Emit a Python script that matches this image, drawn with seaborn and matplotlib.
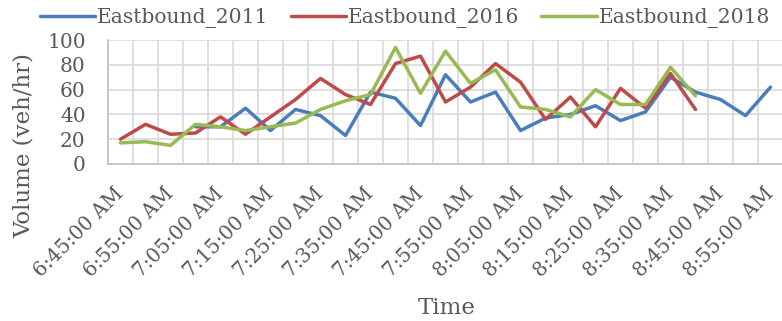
import numpy as np
import pandas as pd
import matplotlib
matplotlib.use("Agg")
import matplotlib.pyplot as plt
import matplotlib.transforms as mtransforms
import seaborn as sns

# Five-minute count intervals, 6:45 AM through 8:55 AM
times = ["6:45:00 AM", "6:50:00 AM", "6:55:00 AM", "7:00:00 AM", "7:05:00 AM",
         "7:10:00 AM", "7:15:00 AM", "7:20:00 AM", "7:25:00 AM", "7:30:00 AM",
         "7:35:00 AM", "7:40:00 AM", "7:45:00 AM", "7:50:00 AM", "7:55:00 AM",
         "8:00:00 AM", "8:05:00 AM", "8:10:00 AM", "8:15:00 AM", "8:20:00 AM",
         "8:25:00 AM", "8:30:00 AM", "8:35:00 AM", "8:40:00 AM", "8:45:00 AM",
         "8:50:00 AM", "8:55:00 AM"]

nan = np.nan
eastbound_2011 = [nan, nan, nan, 30, 30, 45, 27, 44, 39, 23, 58, 53, 31, 72, 50,
                  58, 27, 37, 40, 47, 35, 42, 70, 58, 52, 39, 62]
eastbound_2016 = [20, 32, 24, 25, 38, 24, 38, 52, 69, 56, 48, 81, 87, 50, 62,
                  81, 66, 36, 54, 30, 61, 45, 73, 44, nan, nan, nan]
eastbound_2018 = [17, 18, 15, 32, 30, 27, 30, 33, 44, 51, 56, 94, 57, 91, 65,
                  76, 46, 44, 38, 60, 48, 48, 78, 55, nan, nan, nan]

series = {"Eastbound_2011": eastbound_2011,
          "Eastbound_2016": eastbound_2016,
          "Eastbound_2018": eastbound_2018}
palette = {"Eastbound_2011": "#4A7EBB",
           "Eastbound_2016": "#BE4B48",
           "Eastbound_2018": "#98B954"}

frames = []
for name, vals in series.items():
    frames.append(pd.DataFrame({"pos": np.arange(len(times)),
                                "volume": vals, "series": name}))
df = pd.concat(frames).dropna()

sns.set_style("white")
plt.rcParams["font.family"] = ["DejaVu Serif", "Liberation Serif"]
text_color = "#595959"
W, H = 782, 321

fig = plt.figure(figsize=(W / 100, H / 100), dpi=100)
ax = fig.add_axes([108 / W, 1 - 164 / H, 675 / W, 124 / H])

sns.lineplot(data=df, x="pos", y="volume", hue="series", palette=palette,
             linewidth=2.5, ax=ax, legend=False, sort=False)

ax.set_xlim(-0.5, len(times) - 0.5)
ax.set_ylim(0, 100)
ax.set_yticks(np.arange(0, 101, 20))

# gridlines on category boundaries and at each value tick
ax.set_xticks(np.arange(-0.5, len(times), 1.0), minor=True)
ax.grid(which="minor", axis="x", color="#D9D9D9", linewidth=1.2)
ax.grid(which="major", axis="y", color="#D9D9D9", linewidth=1.2)
ax.set_axisbelow(True)

# label every other interval, slanted
label_pos = np.arange(0, len(times), 2)
ax.set_xticks(label_pos)
ax.set_xticklabels([times[i] for i in label_pos], rotation=45, ha="right",
                   va="center", rotation_mode="anchor", fontsize=14.3,
                   color=text_color)
shift = mtransforms.ScaledTranslation(9 / 100, 0, fig.dpi_scale_trans)
for lbl in ax.get_xticklabels():
    lbl.set_transform(lbl.get_transform() + shift)
ax.tick_params(axis="x", which="both", length=0, pad=19)
ax.tick_params(axis="y", labelsize=14.5, labelcolor=text_color, length=0,
               pad=16)

for side in ["top", "right"]:
    ax.spines[side].set_visible(False)
for side in ["left", "bottom"]:
    ax.spines[side].set_color("#BFBFBF")
    ax.spines[side].set_linewidth(1.2)

ax.set_xlabel("")
ax.set_ylabel("")
fig.text(447 / W, 1 - 308 / H, "Time", fontsize=16.5, color=text_color,
         ha="center", va="center")
fig.text(24 / W, 1 - 146 / H, "Volume (veh/hr)", fontsize=16.5,
         color=text_color, ha="center", va="center", rotation=90)

handles = [plt.Line2D([], [], color=palette[n], linewidth=2.5) for n in series]
fig.legend(handles, list(series.keys()), loc="center",
           bbox_to_anchor=(405 / W, 1 - 18 / H), ncol=3, frameon=False,
           fontsize=14.6, handlelength=2.72, handletextpad=0.12,
           columnspacing=1.08, labelcolor=text_color,
           borderpad=0, borderaxespad=0)

fig.savefig("out.png", dpi=100)
